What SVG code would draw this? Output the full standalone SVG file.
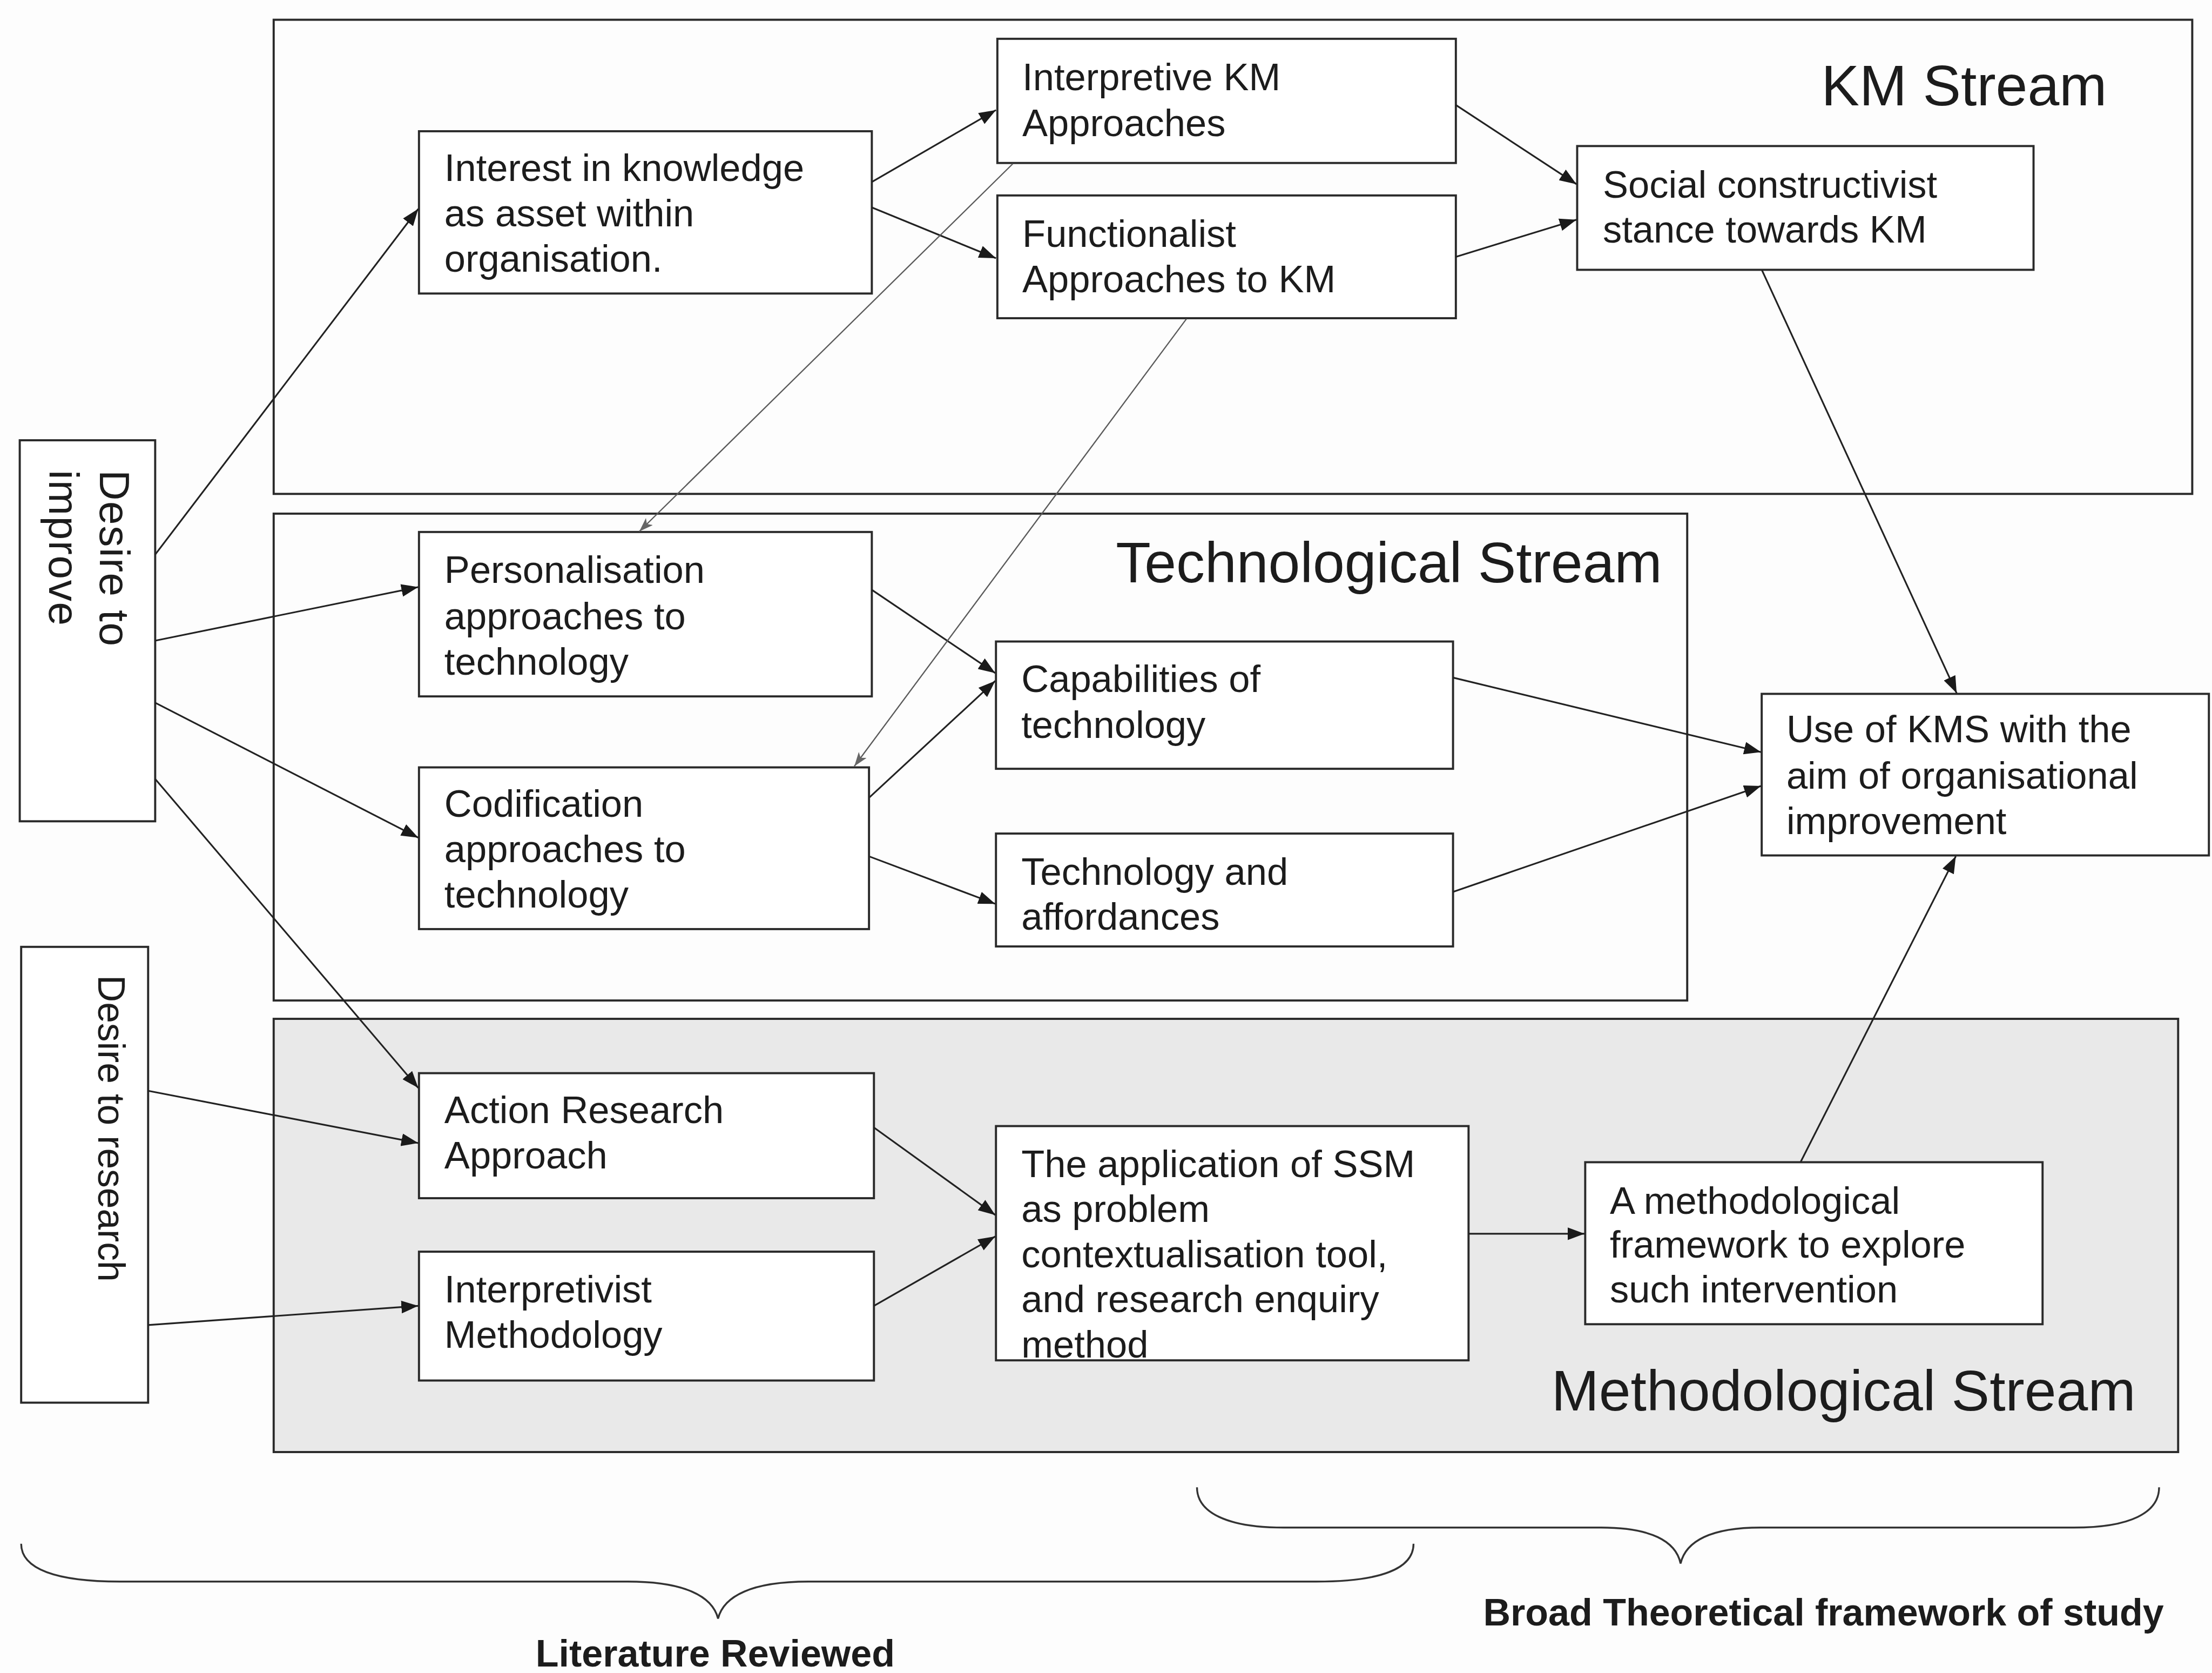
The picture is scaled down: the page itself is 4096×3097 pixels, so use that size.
<svg xmlns="http://www.w3.org/2000/svg" width="4096" height="3097" viewBox="0 0 4096 3097">
  <defs>
    <style>
      .box { fill: #ffffff; stroke: #2a2a2a; stroke-width: 1.5; }
      .stream { fill: none; stroke: #2a2a2a; stroke-width: 1.5; }
      .stream-fill { fill: #e9e9e9; stroke: #2a2a2a; stroke-width: 1.5; }
      .t { font-family: "Liberation Sans", Arial, Helvetica, sans-serif; font-size: 27px; fill: #1c1c1c; }
      .title { font-family: "Liberation Sans", Arial, Helvetica, sans-serif; font-size: 40.5px; fill: #1c1c1c; }
      .label { font-family: "Liberation Sans", Arial, Helvetica, sans-serif; font-size: 26.8px; font-weight: bold; fill: #1c1c1c; text-anchor: middle; }
      .edge { fill: none; stroke: #222222; stroke-width: 1.2; marker-end: url(#arrow); }
      .edge-gray { fill: none; stroke: #5a5a5a; stroke-width: 0.9; marker-end: url(#arrow-gray); }
      .brace { fill: none; stroke: #333333; stroke-width: 1.3; }
    </style>
    <marker id="arrow" viewBox="0 0 12 9" refX="12" refY="4.5" markerWidth="12" markerHeight="9" markerUnits="userSpaceOnUse" orient="auto">
      <path d="M0,0 L12,4.5 L0,9 z" fill="#1a1a1a"/>
    </marker>
    <marker id="arrow-gray" viewBox="0 0 10 7" refX="10" refY="3.5" markerWidth="10" markerHeight="7" markerUnits="userSpaceOnUse" orient="auto">
      <path d="M0,0 L10,3.5 L0,7 L2.5,3.5 z" fill="#666666"/>
    </marker>
  </defs>

  <rect x="0" y="0" width="4096" height="3097" fill="#fdfdfd"/>

  <g transform="scale(2.61224)">
    <!-- stream containers -->
    <g id="km-stream">
      <rect class="stream" x="194" y="14" width="1360" height="336"/>
      <text class="title" x="1291" y="74.5">KM Stream</text>
    </g>
    <g id="technological-stream">
      <rect class="stream" x="194" y="364" width="1002" height="345"/>
      <text class="title" x="791" y="412.6">Technological Stream</text>
    </g>
    <g id="methodological-stream">
      <rect class="stream-fill" x="194" y="722" width="1350" height="307"/>
      <text class="title" x="1099.7" y="999.6">Methodological Stream</text>
    </g>

    <!-- drivers on the left -->
    <g id="desire-improve">
      <rect class="box" x="14" y="312" width="96" height="270"/>
      <text class="t" style="font-size:30px;letter-spacing:0.6px" transform="translate(70.7,333) rotate(90)">Desire to</text>
      <text class="t" style="font-size:30px;letter-spacing:0.6px" transform="translate(34.8,333) rotate(90)">improve</text>
    </g>
    <g id="desire-research">
      <rect class="box" x="15" y="671" width="90" height="323"/>
      <text class="t" style="font-size:26.6px" transform="translate(69.6,691) rotate(90)">Desire to research</text>
    </g>

    <!-- KM stream nodes -->
    <g id="interest">
      <rect class="box" x="297" y="93" width="321" height="115"/>
      <text class="t" x="315" y="128.2">Interest in knowledge</text>
      <text class="t" x="315" y="160.3">as asset within</text>
      <text class="t" x="315" y="192.4">organisation.</text>
    </g>
    <g id="interpretive-km">
      <rect class="box" x="707" y="27.5" width="325" height="88"/>
      <text class="t" x="724.7" y="64">Interpretive KM</text>
      <text class="t" x="724.7" y="96.5">Approaches</text>
    </g>
    <g id="functionalist-km">
      <rect class="box" x="707" y="138.5" width="325" height="87"/>
      <text class="t" x="724.7" y="175">Functionalist</text>
      <text class="t" x="724.7" y="207">Approaches to KM</text>
    </g>
    <g id="social-constructivist">
      <rect class="box" x="1118" y="103.5" width="323.5" height="87.7"/>
      <text class="t" x="1136.2" y="140">Social constructivist</text>
      <text class="t" x="1136.2" y="172">stance towards KM</text>
    </g>

    <!-- technological stream nodes -->
    <g id="personalisation">
      <rect class="box" x="297" y="377" width="321" height="116.5"/>
      <text class="t" x="315" y="413">Personalisation</text>
      <text class="t" x="315" y="446">approaches to</text>
      <text class="t" x="315" y="478">technology</text>
    </g>
    <g id="codification">
      <rect class="box" x="297" y="543.8" width="319" height="114.6"/>
      <text class="t" x="315" y="579">Codification</text>
      <text class="t" x="315" y="611">approaches to</text>
      <text class="t" x="315" y="643">technology</text>
    </g>
    <g id="capabilities">
      <rect class="box" x="706" y="454.6" width="324" height="90.2"/>
      <text class="t" x="724" y="490.5">Capabilities of</text>
      <text class="t" x="724" y="523">technology</text>
    </g>
    <g id="affordances">
      <rect class="box" x="706" y="590.7" width="324" height="80"/>
      <text class="t" x="724" y="627">Technology and</text>
      <text class="t" x="724" y="659">affordances</text>
    </g>
    <g id="use-of-kms">
      <rect class="box" x="1248.8" y="491.7" width="317" height="114.5"/>
      <text class="t" x="1266.3" y="526">Use of KMS with the</text>
      <text class="t" x="1266.3" y="559">aim of organisational</text>
      <text class="t" x="1266.3" y="591">improvement</text>
    </g>

    <!-- methodological stream nodes -->
    <g id="action-research">
      <rect class="box" x="297" y="760.5" width="322.5" height="88.6"/>
      <text class="t" x="315" y="796">Action Research</text>
      <text class="t" x="315" y="828">Approach</text>
    </g>
    <g id="interpretivist">
      <rect class="box" x="297" y="887" width="322.5" height="91.3"/>
      <text class="t" x="315" y="923">Interpretivist</text>
      <text class="t" x="315" y="955">Methodology</text>
    </g>
    <g id="ssm">
      <rect class="box" x="706" y="798" width="335" height="166"/>
      <text class="t" x="724" y="834">The application of SSM</text>
      <text class="t" x="724" y="866">as problem</text>
      <text class="t" x="724" y="898">contextualisation tool,</text>
      <text class="t" x="724" y="930">and research enquiry</text>
      <text class="t" x="724" y="962">method</text>
    </g>
    <g id="framework">
      <rect class="box" x="1123.7" y="823.6" width="324.2" height="114.8"/>
      <text class="t" x="1141.2" y="860">A methodological</text>
      <text class="t" x="1141.2" y="891">framework to explore</text>
      <text class="t" x="1141.2" y="923">such intervention</text>
    </g>

    <!-- connectors -->
    <g id="connectors">
      <line class="edge" x1="110" y1="393" x2="296.5" y2="148"/>
      <line class="edge" x1="618" y1="129" x2="706" y2="78"/>
      <line class="edge" x1="618" y1="147" x2="706" y2="183"/>
      <line class="edge" x1="1032" y1="74.4" x2="1117.5" y2="130.5"/>
      <line class="edge" x1="1032" y1="182" x2="1117.5" y2="155.7"/>
      <line class="edge" x1="1249" y1="191.5" x2="1387" y2="491.2"/>
      <line class="edge" x1="110" y1="454" x2="296.5" y2="416"/>
      <line class="edge" x1="110" y1="498" x2="296.5" y2="593.6"/>
      <line class="edge" x1="110" y1="552" x2="296.5" y2="771"/>
      <line class="edge" x1="618" y1="418" x2="705.5" y2="477"/>
      <line class="edge" x1="616.4" y1="565" x2="705.5" y2="482.5"/>
      <line class="edge" x1="616.4" y1="607" x2="705.5" y2="640.5"/>
      <line class="edge" x1="1030" y1="480.2" x2="1248.3" y2="533"/>
      <line class="edge" x1="1030" y1="632" x2="1248.3" y2="557"/>
      <line class="edge" x1="105" y1="773" x2="296.5" y2="810"/>
      <line class="edge" x1="105" y1="939" x2="296.5" y2="925.4"/>
      <line class="edge" x1="619.5" y1="799" x2="705.5" y2="861"/>
      <line class="edge" x1="619.5" y1="925.4" x2="705.5" y2="876.2"/>
      <line class="edge" x1="1041" y1="874.3" x2="1123.2" y2="874.3"/>
      <line class="edge" x1="1276.3" y1="823.6" x2="1386.4" y2="606.8"/>
      <line class="edge-gray" x1="718" y1="116" x2="453.2" y2="376.6"/>
      <line class="edge-gray" x1="841" y1="226" x2="605.6" y2="543"/>
    </g>

    <!-- grouping braces and their captions -->
    <g id="literature-reviewed">
      <path class="brace" d="M15,1094 C15,1112 40,1120.8 85,1120.8 L445,1120.8 C485,1120.8 505,1131 509,1147 C513,1131 533,1120.8 573,1120.8 L933,1120.8 C978,1120.8 1002,1112 1002,1094"/>
      <text class="label" x="507" y="1181">Literature Reviewed</text>
    </g>
    <g id="broad-framework">
      <path class="brace" d="M848.5,1054 C848.5,1072 870,1082.5 910,1082.5 L1135,1082.5 C1170,1082.5 1188,1092 1191.3,1108 C1195,1092 1213,1082.5 1248,1082.5 L1470,1082.5 C1510,1082.5 1530.5,1072 1530.5,1054"/>
      <text class="label" x="1292.6" y="1151.7">Broad Theoretical framework of study</text>
    </g>
  </g>
</svg>
